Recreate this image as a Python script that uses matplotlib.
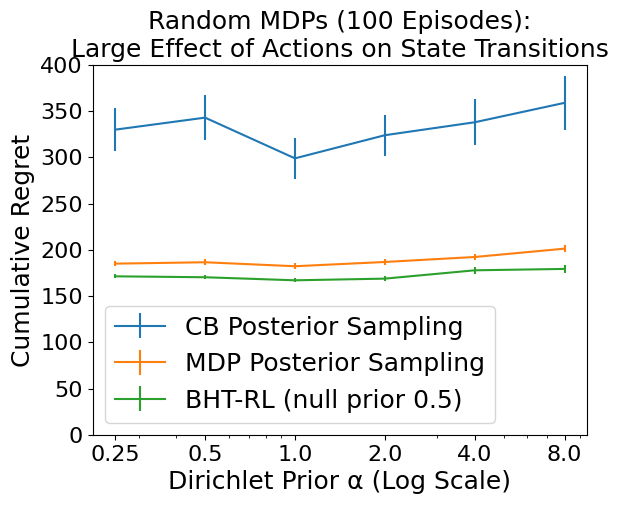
import numpy as np
import matplotlib.pyplot as plt

alphas = [0.25, 0.5, 1.0, 2.0, 4.0, 8.0]

cb_mean = [330, 343, 299, 324, 338, 359]
cb_err = [23.5, 24, 22, 22, 25, 29]
mdp_mean = [185.2, 186.7, 182.4, 187, 192.4, 201.4]
mdp_err = [3, 3, 3, 3, 3.5, 4]
bht_mean = [171.5, 170.5, 167.2, 169, 178, 179.5]
bht_err = [2, 2, 2, 2.5, 3.5, 4]

labels = ['CB Posterior Sampling', 'MDP Posterior Sampling', 'BHT-RL (null prior 0.5)']

fig = plt.figure(figsize=(6.18, 5.07), dpi=100)
ax = fig.add_axes([0.150, 0.142, 0.800, 0.730])

ax.errorbar(alphas, cb_mean, yerr=cb_err, label=labels[0])
ax.errorbar(alphas, mdp_mean, yerr=mdp_err, label=labels[1])
ax.errorbar(alphas, bht_mean, yerr=bht_err, label=labels[2])

ax.set_xscale('log')
ax.set_xticks(alphas)
ax.set_xticklabels([str(a) for a in alphas])
ax.set_ylim(0, 400)
ax.tick_params(labelsize=16)

ax.set_xlabel('Dirichlet Prior α (Log Scale)', fontsize=18)
ax.set_ylabel('Cumulative Regret', fontsize=18)
ax.set_title('Random MDPs (100 Episodes):\nLarge Effect of Actions on State Transitions', fontsize=18)
ax.legend(fontsize=18, loc='lower left')

fig.savefig('out.png', dpi=100)
